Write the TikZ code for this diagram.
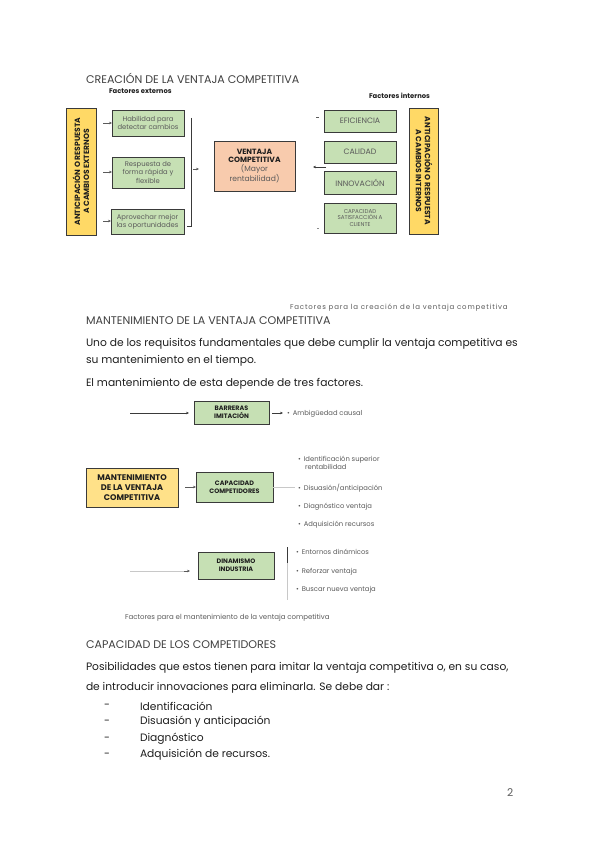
\documentclass[tikz,border=0pt]{standalone}
\usepackage{fontspec}
\setmainfont{Poppins}
\usetikzlibrary{arrows.meta}
\definecolor{boxgreen}{HTML}{C6E0B4}
\definecolor{boxyellow}{HTML}{FFD966}
\definecolor{boxyellowb}{HTML}{FFE189}
\definecolor{boxsalmon}{HTML}{F8CBAD}
\definecolor{edge}{HTML}{3A3A3A}
\definecolor{txt}{HTML}{1E1E1E}
\definecolor{soft}{HTML}{5A5A5A}
\definecolor{faint}{HTML}{C8C8C8}
\begin{document}
\begin{tikzpicture}[x=1pt,y=-1pt,
  every node/.style={inner sep=0pt, outer sep=0pt},
  heading/.style={anchor=west, text=txt!85, font=\fontsize{11.1}{13}\selectfont},
  body/.style={anchor=west, text=txt, font=\fontsize{10.7}{13}\selectfont},
  caption/.style={anchor=west, text=soft, font=\fontsize{7}{8}\selectfont},
  small/.style={anchor=west, text=soft, font=\fontsize{6.8}{8}\selectfont},
  smallb/.style={anchor=west, text=txt, font=\bfseries\fontsize{6.8}{8}\selectfont},
  gbox/.style={draw=edge, line width=0.8pt, fill=boxgreen, align=center, text=soft, font=\fontsize{6.8}{8.2}\selectfont},
  gboxb/.style={draw=edge, line width=0.8pt, fill=boxgreen, align=center, text=txt, font=\bfseries\fontsize{6.4}{7.8}\selectfont},
  ybox/.style={draw=edge, line width=0.8pt, fill=boxyellow, align=center, text=txt, font=\bfseries\fontsize{7.6}{9}\selectfont},
  tip/.style={-{Stealth[length=3pt,width=2.6pt]}},
  thinl/.style={line width=0.6pt, draw=edge}
]
\useasboundingbox[fill=white] (0,0) rectangle (599,848);

% ---------- Section 1 ----------
\node[heading] (t1) at (86,78) {CREACIÓN DE LA VENTAJA COMPETITIVA};
\node[smallb] (fe) at (109,91) {Factores externos};
\node[smallb] (fi) at (369,96) {Factores internos};

\node[ybox, rotate=90, minimum width=127, minimum height=30] (antext) at (81,171.5)
  {ANTICIPACIÓN O RESPUESTA\\A CAMBIOS EXTERNOS};

\node[gbox, anchor=north west, minimum width=72, minimum height=26] (h1) at (112,110) {Habilidad para\\detectar cambios};
\node[gbox, anchor=north west, minimum width=72, minimum height=31] (h2) at (112,157) {Respuesta de\\forma rápida y\\flexible};
\node[gbox, anchor=north west, minimum width=73, minimum height=25] (h3) at (111,209) {Aprovechar mejor\\las oportunidades};

\coordinate (a1) at (103,123);
\coordinate (a2) at (103,172);
\coordinate (a3) at (103,221);
\draw[thinl, draw=soft, tip] (a1) -- (h1.west |- a1) ;
\draw[thinl, draw=soft, tip] (a2) -- (h2.west |- a2);
\draw[thinl, draw=soft, tip] (a3) -- (h3.west |- a3);

\coordinate (bt) at (191,118);
\coordinate (bb) at (191,226);
\coordinate (bbl) at (187,226);
\draw[thinl] (bt) -- (bb) -- (bbl);
\coordinate (bm1) at (193,169);
\coordinate (bm2) at (199,169);
\draw[thinl, draw=soft, tip] (bm1) -- (bm2);

\node[draw=edge, line width=0.9pt, fill=boxsalmon, anchor=north west, minimum width=81, minimum height=50, align=center,
      font=\fontsize{7.6}{8.6}\selectfont, text=txt] (vc) at (214,141)
  {\textbf{VENTAJA}\\\textbf{COMPETITIVA}\\{\color{soft}(Mayor}\\{\color{soft}rentabilidad)}};

\coordinate (ra) at (326,167);
\draw[thinl, tip] (ra) -- ++(-13,0) coordinate (rb);

\node[gbox, anchor=north west, minimum width=72, minimum height=22, font=\fontsize{7.8}{9}\selectfont] (ef) at (324,110) {EFICIENCIA};
\node[gbox, anchor=north west, minimum width=72, minimum height=22, font=\fontsize{7.8}{9}\selectfont] (ca) at (324,141) {CALIDAD};
\node[gbox, anchor=north west, minimum width=72, minimum height=23, font=\fontsize{7.8}{9}\selectfont] (in) at (324,171) {INNOVACIÓN};
\node[gbox, anchor=north west, minimum width=72, minimum height=30, font=\fontsize{5.6}{6.6}\selectfont] (cs) at (324,203) {CAPACIDAD\\SATISFACCIÓN A\\CLIENTE};

\coordinate (e1) at (316,117);
\coordinate (e2) at (319,117);
\draw[thinl, draw=soft] (e1) -- (e2);
\coordinate (e3) at (317,228);
\coordinate (e4) at (319,228);
\draw[thinl, draw=soft!70] (e3) -- (e4);

\node[ybox, rotate=-90, minimum width=126, minimum height=29] (aint) at (424,171)
  {ANTICIPACIÓN O RESPUESTA\\A CAMBIOS INTERNOS};

\node[caption, font=\addfontfeature{LetterSpace=12}\fontsize{7}{8}\selectfont] (cap1) at (290,308) {Factores para la creación de la ventaja competitiva};

% ---------- Section 2 ----------
\node[heading] (t2) at (86,321) {MANTENIMIENTO DE LA VENTAJA COMPETITIVA};
\node[body] (p1) at (86,344) {Uno de los requisitos fundamentales que debe cumplir la ventaja competitiva es};
\node[body] (p2) at (86,361) {su mantenimiento en el tiempo.};
\node[body] (p3) at (86,384) {El mantenimiento de esta depende de tres factores.};

\node[gboxb, anchor=north west, minimum width=75, minimum height=23] (bar) at (194,401) {BARRERAS\\IMITACIÓN};
\coordinate (l1) at (130,413);
\draw[thinl, tip, shorten >=5pt] (l1) -- (bar.west |- l1);
\coordinate (l2) at (283,413);
\draw[thinl, tip, shorten <=3pt] (bar.east |- l2) -- (l2);
\node[small] (amb) at (287,414) {•\hspace{3pt}Ambigüedad causal};

\node[ybox, fill=boxyellowb, anchor=north west, minimum width=92, minimum height=39, font=\bfseries\fontsize{8.2}{10}\selectfont] (mant) at (86,468)
  {MANTENIMIENTO\\DE LA VENTAJA\\COMPETITIVA};
\node[gboxb, anchor=north west, minimum width=77, minimum height=30] (cap) at (196,472) {CAPACIDAD\\COMPETIDORES};
\coordinate (m1) at (185,487);
\draw[thinl, draw=soft, tip] (m1) -- (cap.west |- m1);
\coordinate (m2) at (295,487);
\draw[line width=0.5pt, draw=faint] (cap.east |- m2) -- (m2);

\node[small, align=left] (b1) at (298,463) {•\hspace{3pt}Identificación superior\\\hspace{7pt}rentabilidad};
\node[small] (b2) at (298,488) {•\hspace{3pt}Disuasión/anticipación};
\node[small] (b3) at (298,507) {•\hspace{3pt}Diagnóstico ventaja};
\node[small] (b4) at (298,525) {•\hspace{3pt}Adquisición recursos};

\node[gboxb, anchor=north west, minimum width=76, minimum height=27] (din) at (198,552) {DINAMISMO\\INDUSTRIA};
\coordinate (d1) at (130,571);
\draw[line width=0.5pt, draw=faint] (d1) -- (186,571) coordinate (d2);
\coordinate (d3) at (184,571);
\draw[thinl, draw=soft, tip] (d3) -- (190,571);
\coordinate (v1) at (287,547);
\coordinate (v2) at (287,563);
\coordinate (v3) at (287,600);
\draw[line width=0.5pt, draw=faint] (v2) -- (v3);
\draw[thinl] (v1) -- (v2);

\node[small] (c1) at (296,552) {•\hspace{3pt}Entornos dinámicos};
\node[small] (c2) at (296,572) {•\hspace{3pt}Reforzar ventaja};
\node[small] (c3) at (296,590) {•\hspace{3pt}Buscar nueva ventaja};

\node[caption] (cap2) at (125,618) {Factores para el mantenimiento de la ventaja competitiva};

% ---------- Section 3 ----------
\node[heading] (t3) at (86,645) {CAPACIDAD DE LOS COMPETIDORES};
\node[body] (q1) at (86,668) {Posibilidades que estos tienen para imitar la ventaja competitiva o, en su caso,};
\node[body] (q2) at (86,688) {de introducir innovaciones para eliminarla. Se debe dar :};

\node[body] (d1a) at (104,706) {-};
\node[body] (i1) at (140,706) {Identificación};
\node[body] (d2a) at (104,722) {-};
\node[body] (i2) at (140,722) {Disuasión y anticipación};
\node[body] (d3a) at (104,739) {-};
\node[body] (i3) at (140,739) {Diagnóstico};
\node[body] (d4a) at (104,755) {-};
\node[body] (i4) at (140,755) {Adquisición de recursos.};

\node[body, text=soft] (pg) at (507,793) {2};
\end{tikzpicture}
\end{document}
